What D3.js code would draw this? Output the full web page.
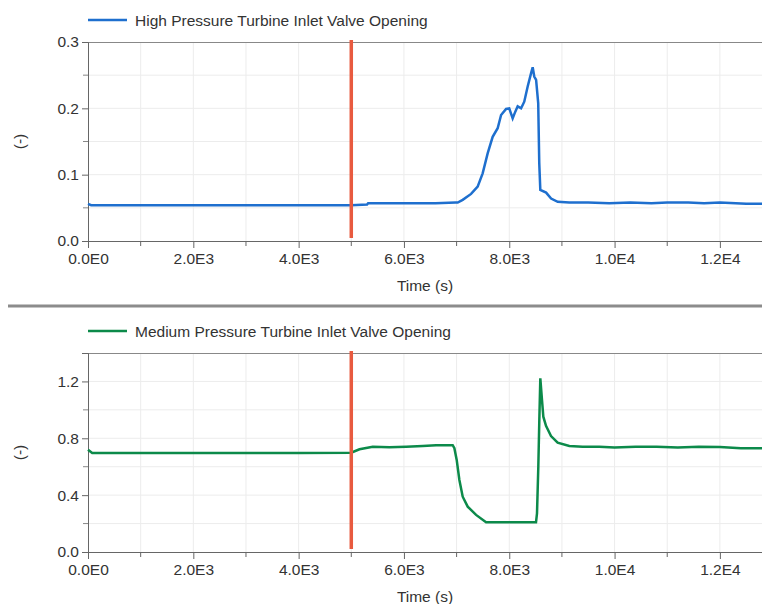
<!DOCTYPE html>
<html>
<head>
<meta charset="utf-8">
<script src="https://cdn.jsdelivr.net/npm/d3@7"></script>
<style>
	body { margin: 0; background: #fff; }
	svg { display: block; font-family: "Liberation Sans", Arial, sans-serif; }
</style>
</head>
<body>
<svg id="chart" width="762" height="604"></svg>
<script>

// Data

var eventTime = 5000;

var hpTime = [0, 60, 200, 1000, 2000, 3000, 4000, 4998, 5300, 5320, 6000, 6600, 6980, 7021, 7116, 7275, 7400, 7495, 7590, 7685, 7780, 7845, 7940, 8000, 8065, 8115, 8160, 8225, 8285, 8350, 8415, 8445, 8475, 8510, 8550, 8570, 8590, 8700, 8795, 8920, 9140, 9500, 9900, 10300, 10700, 11000, 11400, 11700, 12000, 12300, 12500, 12800];
var hpValue = [0.056, 0.054, 0.054, 0.054, 0.054, 0.054, 0.054, 0.054, 0.055, 0.057, 0.057, 0.057, 0.058, 0.058, 0.062, 0.071, 0.082, 0.102, 0.132, 0.157, 0.170, 0.190, 0.199, 0.200, 0.185, 0.195, 0.203, 0.200, 0.210, 0.233, 0.253, 0.262, 0.248, 0.243, 0.208, 0.117, 0.077, 0.073, 0.064, 0.059, 0.058, 0.058, 0.057, 0.058, 0.057, 0.058, 0.058, 0.057, 0.058, 0.057, 0.056, 0.056];

var mpTime = [0, 80, 300, 1000, 2000, 3000, 4000, 4998, 5156, 5408, 5725, 6042, 6357, 6611, 6926, 6958, 7002, 7053, 7116, 7211, 7370, 7560, 8000, 8508, 8527, 8552, 8571, 8590, 8622, 8647, 8698, 8793, 8919, 9141, 9393, 9709, 10000, 10400, 10800, 11200, 11600, 12000, 12400, 12800];
var mpValue = [0.72, 0.697, 0.697, 0.697, 0.697, 0.697, 0.697, 0.699, 0.723, 0.741, 0.737, 0.741, 0.746, 0.751, 0.751, 0.730, 0.648, 0.507, 0.389, 0.319, 0.261, 0.209, 0.209, 0.209, 0.272, 0.600, 0.929, 1.222, 1.069, 0.952, 0.887, 0.816, 0.769, 0.746, 0.741, 0.741, 0.735, 0.741, 0.741, 0.735, 0.741, 0.738, 0.730, 0.730];

var xTicks = [0, 2000, 4000, 6000, 8000, 10000, 12000];
var xTickLabels = ["0.0E0", "2.0E3", "4.0E3", "6.0E3", "8.0E3", "1.0E4", "1.2E4"];

var panels = [
	{
		"name": "High Pressure Turbine Inlet Valve Opening",
		"color": "#1e6fce",
		"time": hpTime,
		"value": hpValue,
		"yMax": 0.3,
		"yTicks": [0, 0.1, 0.2, 0.3],
		"yMinor": [0.05, 0.15, 0.25],
		"top": 42,
		"bottom": 241,
		"legendY": 20
	},
	{
		"name": "Medium Pressure Turbine Inlet Valve Opening",
		"color": "#0c8a4a",
		"time": mpTime,
		"value": mpValue,
		"yMax": 1.4,
		"yTicks": [0, 0.4, 0.8, 1.2],
		"yMinor": [0.2, 0.6, 1.0],
		"top": 353,
		"bottom": 552,
		"legendY": 331
	}
];

// Drawing

var svg = d3.select("#chart");
var left = 88, right = 762;
var fontSize = 15.5;

var x = d3.scaleLinear().domain([0, 12800]).range([left, right]);
var minorX = d3.range(1000, 12800, 1000);

// separator between the two panels
svg.append("line")
	.attr("x1", 8).attr("x2", 762)
	.attr("y1", 306).attr("y2", 306)
	.attr("stroke", "#8c8c8c")
	.attr("stroke-width", 3);

panels.forEach(function(p) {

	var y = d3.scaleLinear().domain([0, p.yMax]).range([p.bottom, p.top]);
	var g = svg.append("g");

	// grid
	g.selectAll(".vgrid").data(minorX).enter().append("line")
		.attr("x1", function(d) { return x(d); }).attr("x2", function(d) { return x(d); })
		.attr("y1", p.top).attr("y2", p.bottom)
		.attr("stroke", "#ececec");

	g.selectAll(".hgrid").data(p.yTicks.concat(p.yMinor).filter(function(d) { return d > 0 && d < p.yMax; })).enter().append("line")
		.attr("x1", left).attr("x2", right)
		.attr("y1", function(d) { return y(d); }).attr("y2", function(d) { return y(d); })
		.attr("stroke", "#ececec");

	// top border
	g.append("line")
		.attr("x1", left).attr("x2", right)
		.attr("y1", p.top + 0.5).attr("y2", p.top + 0.5)
		.attr("stroke", "#888");

	// x axis
	var xAxis = g.append("g")
		.attr("transform", "translate(0," + p.bottom + ")")
		.call(d3.axisBottom(x).tickValues(xTicks).tickSize(7).tickFormat(function(d, i) { return xTickLabels[i]; }));
	xAxis.select(".domain").attr("stroke", "#666");
	xAxis.selectAll(".tick line").attr("stroke", "#666");
	xAxis.selectAll("text").attr("fill", "#333").attr("font-size", fontSize).attr("dy", "0.85em");
	xAxis.selectAll(".minor").data(minorX.filter(function(d) { return d % 2000 !== 0; })).enter().append("line")
		.attr("x1", function(d) { return x(d); }).attr("x2", function(d) { return x(d); })
		.attr("y1", 0).attr("y2", 5)
		.attr("stroke", "#666");

	// y axis
	var yAxis = g.append("g")
		.attr("transform", "translate(" + left + ",0)")
		.call(d3.axisLeft(y).tickValues(p.yTicks).tickSize(6).tickFormat(d3.format(".1f")));
	yAxis.select(".domain").attr("stroke", "#666");
	yAxis.selectAll(".tick line").attr("stroke", "#666");
	yAxis.selectAll("text").attr("fill", "#333").attr("font-size", fontSize);
	yAxis.selectAll(".minor").data(p.yMinor).enter().append("line")
		.attr("x1", -5).attr("x2", 0)
		.attr("y1", function(d) { return y(d); }).attr("y2", function(d) { return y(d); })
		.attr("stroke", "#888");

	// axis titles
	g.append("text")
		.attr("x", (left + right) / 2).attr("y", p.bottom + 50)
		.attr("text-anchor", "middle")
		.attr("font-size", fontSize).attr("fill", "#333")
		.text("Time (s)");

	g.append("text")
		.attr("transform", "translate(25," + ((p.top + p.bottom) / 2) + ") rotate(-90)")
		.attr("text-anchor", "middle")
		.attr("font-size", fontSize).attr("fill", "#333")
		.text("(-)");

	// legend
	g.append("line")
		.attr("x1", 88).attr("x2", 127)
		.attr("y1", p.legendY).attr("y2", p.legendY)
		.attr("stroke", p.color).attr("stroke-width", 2.5);
	g.append("text")
		.attr("x", 135).attr("y", p.legendY + 6)
		.attr("font-size", fontSize).attr("fill", "#333")
		.text(p.name);

	// series
	var points = p.time.map(function(t, i) { return [t, p.value[i]]; });
	g.append("path")
		.datum(points)
		.attr("fill", "none")
		.attr("stroke", p.color)
		.attr("stroke-width", 2.5)
		.attr("d", d3.line().x(function(d) { return x(d[0]); }).y(function(d) { return y(d[1]); }));

	// event marker
	g.append("line")
		.attr("x1", x(eventTime)).attr("x2", x(eventTime))
		.attr("y1", p.top - 2).attr("y2", p.bottom - 3)
		.attr("stroke", "#e85a3f")
		.attr("stroke-width", 3.5);

});

</script>
</body>
</html>
